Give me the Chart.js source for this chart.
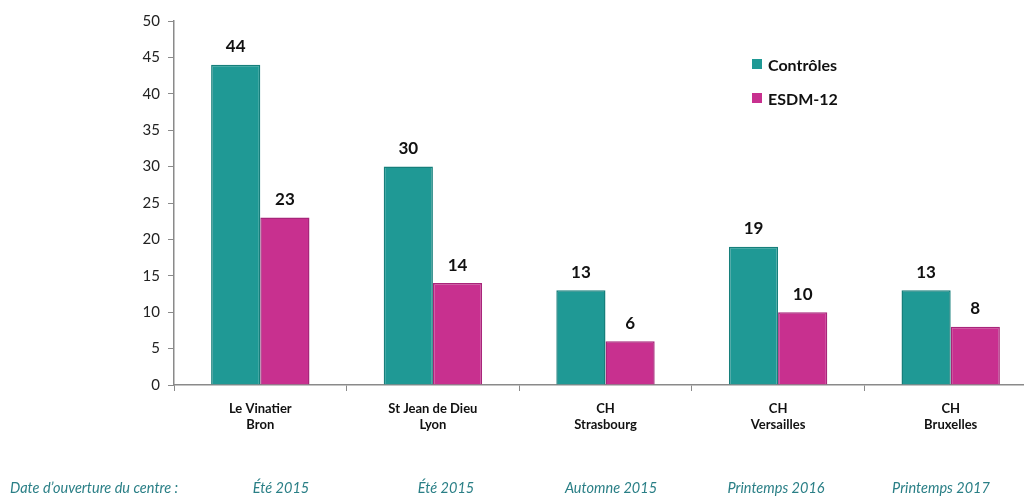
<!DOCTYPE html>
<html>
<head>
<meta charset="utf-8">
<script src="https://cdn.jsdelivr.net/npm/chart.js@4"></script>
<style>
  html, body { margin: 0; padding: 0; background: #fff; overflow: hidden; }
  #wrap { position: relative; width: 1024px; height: 496px; overflow: hidden; }
  #legende { position: absolute; left: 752px; top: 47px; font-family: Lato, 'Open Sans', sans-serif; font-weight: bold; font-size: 16px; color: #111; }
  #legende div { height: 34px; display: flex; align-items: center; }
  #legende span.box { display: inline-block; width: 10px; height: 10px; margin-right: 6px; }
</style>
</head>
<body>
<div id="wrap">
  <canvas id="graph" width="1040" height="496"></canvas>
  <div id="legende"></div>
</div>
<script>
// Données
const centres = [['Le Vinatier', 'Bron'], ['St Jean de Dieu', 'Lyon'], ['CH', 'Strasbourg'], ['CH', 'Versailles'], ['CH', 'Bruxelles']];
const controles = [44, 30, 13, 19, 13];
const esdm = [23, 14, 6, 10, 8];
const ouvertures = ['Été 2015', 'Été 2015', 'Automne 2015', 'Printemps 2016', 'Printemps 2017'];
const titreOuverture = 'Date d\u2019ouverture du centre :';

const TEAL = '#1f9995', MAGENTA = '#c8308f';
const FONT = "Lato, 'Open Sans', sans-serif";

/* ---------- Étiquettes de valeurs au-dessus des barres ---------- */
const valeursPlugin = {
  id: 'valeurs',
  afterDatasetsDraw(chart) {
    const ctx = chart.ctx;
    ctx.save();
    ctx.font = 'bold 17px ' + FONT;
    ctx.fillStyle = '#111';
    ctx.textAlign = 'center';
    ctx.textBaseline = 'middle';
    chart.data.datasets.forEach((ds, i) => {
      chart.getDatasetMeta(i).data.forEach((bar, j) => {
        ctx.fillText(ds.data[j], bar.x, bar.y - 18);
      });
    });
    ctx.restore();
  }
};

/* ---------- Ligne des dates d'ouverture (texte sous le graphique) ---------- */
const datesPlugin = {
  id: 'dates',
  afterDraw(chart) {
    const ctx = chart.ctx;
    ctx.save();
    ctx.font = 'italic 14.5px ' + FONT;
    ctx.fillStyle = '#2a7f86';
    ctx.textBaseline = 'middle';
    ctx.textAlign = 'left';
    ctx.fillText(titreOuverture, 10, 488);
    ctx.textAlign = 'center';
    ouvertures.forEach((d, i) => ctx.fillText(d, 281 + i * 165, 488));
    ctx.restore();
  }
};

const chart = new Chart(document.getElementById('graph'), {
  type: 'bar',
  data: {
    labels: centres,
    datasets: [
      { label: 'Contrôles', data: controles, backgroundColor: TEAL, borderColor: '#167f7b', borderWidth: 1.5 },
      { label: 'ESDM-12', data: esdm, backgroundColor: MAGENTA, borderColor: '#a8257a', borderWidth: 1.5 },
    ],
  },
  options: {
    responsive: false, animation: false,
    categoryPercentage: 0.57, barPercentage: 1,
    layout: { padding: { top: 21, right: 3, left: 0, bottom: 0 } },
    scales: {
      x: {
        grid: { display: true, drawOnChartArea: false, tickLength: 6, color: '#8a8a8a', offset: true },
        border: { color: '#8a8a8a', width: 1.5 },
        ticks: { color: '#111', font: { family: FONT, size: 13, weight: 'bold' }, padding: 10, maxRotation: 0, autoSkip: false },
        afterFit: s => { s.height = 111; },
      },
      y: {
        min: 0, max: 50,
        grid: { display: true, drawOnChartArea: false, tickLength: 6, color: '#8a8a8a' },
        border: { color: '#8a8a8a', width: 1.5 },
        ticks: { stepSize: 5, color: '#222', font: { family: FONT, size: 15 }, padding: 8 },
        afterFit: s => { s.width = 174; },
      },
    },
    plugins: {
      legend: { display: false },
      tooltip: { enabled: false },
    },
  },
  plugins: [valeursPlugin, datesPlugin],
});

// Légende HTML
document.getElementById('legende').innerHTML = chart.data.datasets
  .map(ds => `<div><span class="box" style="background:${ds.backgroundColor}"></span>${ds.label}</div>`).join('');
</script>
</body>
</html>
